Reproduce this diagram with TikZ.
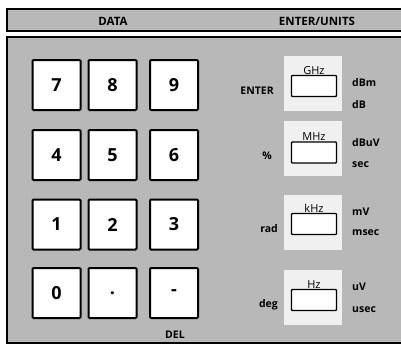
\documentclass[tikz,border=0pt]{standalone}
\usepackage{fontspec}
\setmainfont{Open Sans}
\begin{document}
\begin{tikzpicture}[x=1pt,y=-1pt,
  panel/.style={draw=black, line width=1.6pt, fill=black!28},
  numkey/.style={draw=black, line width=2pt, fill=white, rounded corners=1pt,
    minimum width=48pt, minimum height=50pt, inner sep=0pt,
    font=\fontsize{18}{18}\selectfont\bfseries},
  unitkey/.style={draw=black, line width=1.4pt, fill=white, rounded corners=0.8pt,
    minimum width=45pt, minimum height=21pt, inner sep=0pt},
  halo/.style={fill=black!6, draw=none, minimum width=58pt, minimum height=55pt, inner sep=0pt},
  keylabel/.style={font=\fontsize{11}{11}\selectfont, inner sep=0.3pt},
  sidelabel/.style={font=\fontsize{10.5}{11}\selectfont\bfseries, inner sep=0pt},
  headlabel/.style={font=\fontsize{11.5}{12}\selectfont\bfseries, inner sep=0pt}]
\useasboundingbox (0,0) rectangle (401,349);
% header bar
\path[panel] (7,9) rectangle (404,31);
\node[headlabel] (hdata) at (113,21) {DATA};
\node[headlabel] (hunits) at (317,21) {ENTER/UNITS};
% main panel
\path[panel] (7,37) rectangle (404,343);
% numeric keys
\node[numkey] (k7) at (56.5,85) {7};
\node[numkey] (k8) at (112.5,85) {8};
\node[numkey] (k9) at (174,85) {9};
\node[numkey] (k4) at (56.5,155) {4};
\node[numkey] (k5) at (112.5,155) {5};
\node[numkey] (k6) at (174,155) {6};
\node[numkey] (k1) at (56.5,224.5) {1};
\node[numkey] (k2) at (112.5,224.5) {2};
\node[numkey] (k3) at (174,224.5) {3};
\node[numkey] (k0) at (56.5,293) {0};
\node[numkey] (kdot) at (112.5,293) {.};
\node[numkey] (kminus) at (174,293) {-};
\node[sidelabel] (del) at (175,335) {DEL};
% unit key halos
\node[halo] (h1) at (313,83) {};
\node[halo] (h2) at (313,148) {};
\node[halo] (h3) at (313,222) {};
\node[halo] (h4) at (313,297) {};
% unit keys
\node[unitkey] (ghz) at (314,86) {};
\node[unitkey] (mhz) at (314,152.5) {};
\node[unitkey] (khz) at (314,224) {};
\node[unitkey] (hz) at (314,300) {};
\node[keylabel, anchor=south] (lghz) at (ghz.north) {GHz};
\node[keylabel, anchor=south] (lmhz) at (mhz.north) {MHz};
\node[keylabel, anchor=south] (lkhz) at (khz.north) {kHz};
\node[keylabel, anchor=south] (lhz) at (hz.north) {Hz};
% left labels
\node[sidelabel, anchor=east] (enter) at (274,91) {ENTER};
\node[sidelabel, anchor=east] (pct) at (272,156) {\%};
\node[sidelabel, anchor=east] (rad) at (278,229) {rad};
\node[sidelabel, anchor=east] (deg) at (278,305) {deg};
% right labels
\node[sidelabel, anchor=west] (dbm) at (352,83) {dBm};
\node[sidelabel, anchor=west] (db) at (352,105) {dB};
\node[sidelabel, anchor=west] (dbuv) at (352,143) {dBuV};
\node[sidelabel, anchor=west] (sec) at (352,165) {sec};
\node[sidelabel, anchor=west] (mv) at (352,212) {mV};
\node[sidelabel, anchor=west] (msec) at (352,233) {msec};
\node[sidelabel, anchor=west] (uv) at (352,287) {uV};
\node[sidelabel, anchor=west] (usec) at (352,310) {usec};
\end{tikzpicture}
\end{document}
